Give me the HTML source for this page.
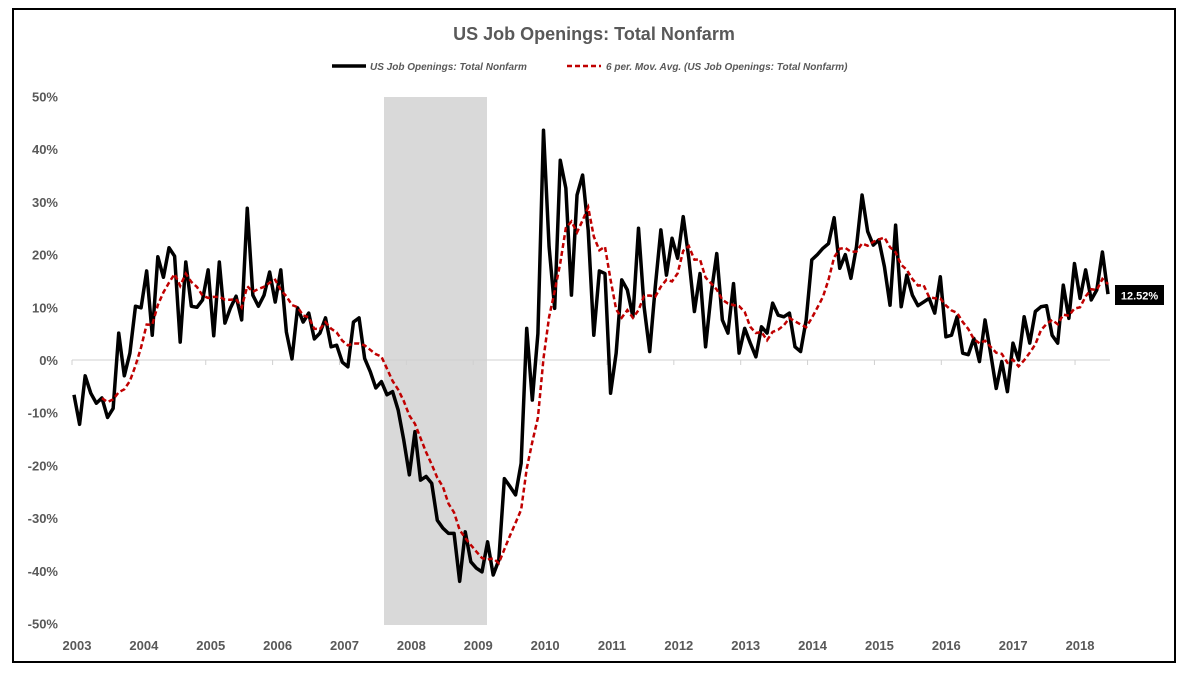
<!DOCTYPE html>
<html><head><meta charset="utf-8"><style>
body{margin:0;background:#fff;}
svg text{font-family:"Liberation Sans",sans-serif;}
</style></head><body>
<svg id="chart" width="1199" height="680" xmlns="http://www.w3.org/2000/svg">
<rect x="0" y="0" width="1199" height="680" fill="#fff"/>
<rect x="13" y="9" width="1162" height="653" fill="none" stroke="#000" stroke-width="2"/>
<text x="594" y="40" text-anchor="middle" font-size="18" font-weight="bold" fill="#595959">US Job Openings: Total Nonfarm</text>
<g>
<line x1="332" y1="66" x2="366" y2="66" stroke="#000" stroke-width="3.5"/>
<text x="370" y="70" font-size="10" font-style="italic" font-weight="bold" fill="#595959">US Job Openings: Total Nonfarm</text>
<line x1="567" y1="66" x2="601" y2="66" stroke="#c00000" stroke-width="2.5" stroke-dasharray="5,3"/>
<text x="606" y="70" font-size="10" font-style="italic" font-weight="bold" fill="#595959">6 per. Mov. Avg. (US Job Openings: Total Nonfarm)</text>
</g>
<rect x="384" y="97" width="103" height="528" fill="#d9d9d9"/>
<g id="yaxis"></g>
<g id="xaxis"></g>
<g id="series"></g>
<rect x="1115" y="285" width="49" height="20" fill="#000"/>
<text x="1139.5" y="299.5" text-anchor="middle" font-size="11" font-weight="bold" fill="#fff">12.52%</text>
</svg>
<script>
const yTicks=[50,40,30,20,10,0,-10,-20,-30,-40,-50];
const years=["2003","2004","2005","2006","2007","2008","2009","2010","2011","2012","2013","2014","2015","2016","2017","2018"];
const values=[-6.6,-12.2,-3,-6.3,-8.2,-7.2,-10.9,-9.2,5.1,-3,1.3,10.2,9.9,16.9,4.7,19.6,15.7,21.3,19.7,3.4,18.6,10.2,10,11.4,17.1,4.6,18.6,7,9.9,12.1,7.6,28.8,12.3,10.2,12.3,16.7,11,17.1,5.3,0.2,9.9,7.2,8.9,4,5.1,8,2.5,2.8,-0.4,-1.3,7.2,8,
0.3,-2.2,-5.3,-4.1,-6.6,-6,-9.5,-15.2,-21.8,-13.6,-22.8,-22.1,-23.4,-30.4,-31.9,-32.9,-32.9,-42,-32.6,-38.3,-39.5,-40.2,-34.5,-40.8,-38,-22.5,-24,-25.6,-19.6,6,-7.6,5,43.6,21.5,9.8,37.9,32.6,12.3,31.3,35.1,24.6,4.7,16.9,16.4,-6.3,
1.3,15.2,13.3,8.2,25,10.1,1.6,13.9,24.7,16.1,23.1,19.3,27.2,19.3,9.2,16.4,2.5,12.6,20.2,7.6,5.1,14.5,1.3,6,3.2,0.6,6.3,5.1,10.8,8.5,8.2,8.9,2.5,1.6,7.6,19,20,21.2,22.1,27,17.4,20,15.5,21.5,31.3,24.4,21.8,22.8,17.7,10.4,25.6,10.1,
16.1,12.3,10.3,11,11.7,8.9,15.8,4.4,4.7,8.2,1.3,1,4.1,-0.3,7.6,1.3,-5.4,-0.3,-6,3.2,0,8.2,3.2,9.2,10.1,10.3,4.7,3.2,14.2,7.9,18.3,11.7,17.1,11.4,13.3,20.5,12.5];
const NS="http://www.w3.org/2000/svg";
const y=v=>360-v*5.27;
const x=i=>74+i*(1108-74)/(values.length-1);
const yr=k=>72+k*66.87;
const ya=document.getElementById('yaxis');
yTicks.forEach(t=>{
 const e=document.createElementNS(NS,'text');
 e.setAttribute('x',58);e.setAttribute('y',y(t)+5);e.setAttribute('text-anchor','end');
 e.setAttribute('font-size','13');e.setAttribute('font-weight','bold');e.setAttribute('fill','#595959');
 e.textContent=t+'%';
 
 
 ya.appendChild(e);
});
const xa=document.getElementById('xaxis');
const base=document.createElementNS(NS,'line');
base.setAttribute('x1',72);base.setAttribute('x2',1110);base.setAttribute('y1',y(0));base.setAttribute('y2',y(0));
base.setAttribute('stroke','#d0d0d0');base.setAttribute('stroke-width','1');


xa.appendChild(base);
years.forEach((lab,k)=>{
 const tk=document.createElementNS(NS,'line');
 tk.setAttribute('x1',yr(k));tk.setAttribute('x2',yr(k));tk.setAttribute('y1',y(0));tk.setAttribute('y2',y(0)+5);
 tk.setAttribute('stroke','#d0d0d0');
 
 
 xa.appendChild(tk);
 const e=document.createElementNS(NS,'text');
 e.setAttribute('x',yr(k)+5);e.setAttribute('y',650);e.setAttribute('text-anchor','middle');
 e.setAttribute('font-size','13');e.setAttribute('font-weight','bold');e.setAttribute('fill','#595959');
 e.textContent=lab;
 
 
 xa.appendChild(e);
});
const s=document.getElementById('series');
const p=document.createElementNS(NS,'polyline');
p.setAttribute('points',values.map((v,i)=>x(i)+','+y(v)).join(' '));
p.setAttribute('fill','none');p.setAttribute('stroke','#000');p.setAttribute('stroke-width','3.5');p.setAttribute('stroke-linejoin','round');


s.appendChild(p);
const ma=[];
for(let i=5;i<values.length;i++){let sum=0;for(let j=i-5;j<=i;j++)sum+=values[j];ma.push(x(i)+','+y(sum/6));}
const m=document.createElementNS(NS,'polyline');
m.setAttribute('points',ma.join(' '));
m.setAttribute('fill','none');m.setAttribute('stroke','#c00000');m.setAttribute('stroke-width','2.5');m.setAttribute('stroke-dasharray','5,3');


s.appendChild(m);
</script>
</body></html>
